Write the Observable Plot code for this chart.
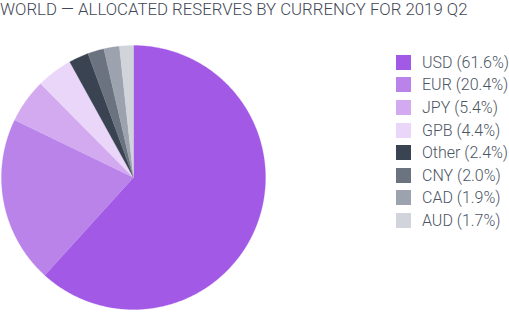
<!DOCTYPE html>
<html>
<head>
<meta charset="utf-8">
<script src="https://cdn.jsdelivr.net/npm/d3@7"></script>
<script src="https://cdn.jsdelivr.net/npm/@observablehq/plot@0.6"></script>
<style>
  html, body { margin: 0; padding: 0; background: #fff; }
  #wrap { position: relative; width: 509px; height: 312px; overflow: hidden; font-family: Roboto, sans-serif; font-weight: 300; }
  #title { position: absolute; left: 0px; top: -1px; font-size: 16.8px; font-weight: 300; color: #3f4856; white-space: nowrap; }
  #chart { position: absolute; left: 0; top: 40px; }
  #legend { position: absolute; left: 396px; top: 51px; }
  .row { display: flex; align-items: center; height: 22.6px; font-size: 16px; color: #4b5563; white-space: nowrap; }
  .sw { width: 15px; height: 15px; margin-right: 11px; flex: none; }
</style>
</head>
<body>
<div id="wrap">
  <div id="title">WORLD — ALLOCATED RESERVES BY CURRENCY FOR 2019 Q2</div>
  <div id="chart"></div>
  <div id="legend"></div>
</div>
<script>
const currencies = ["USD", "EUR", "JPY", "GPB", "Other", "CNY", "CAD", "AUD"];
const shares = [61.6, 20.4, 5.4, 4.4, 2.4, 2.0, 1.9, 1.7];
const colors = ["#a259e6", "#b983ea", "#d3aaf0", "#e9d6f9", "#394352", "#6b7280", "#9ca3af", "#d1d5db"];

const total = d3.sum(shares);
const pts = [];
let acc = 0;
currencies.forEach((c, i) => {
  const a0 = acc / total * 2 * Math.PI;
  acc += shares[i];
  const a1 = acc / total * 2 * Math.PI;
  pts.push({name: c, x: 0, y: 0});
  const n = Math.max(4, Math.ceil((a1 - a0) / 0.01));
  for (let k = 0; k <= n; k++) {
    const a = a0 + (a1 - a0) * k / n;
    pts.push({name: c, x: Math.sin(a), y: Math.cos(a)});
  }
  pts.push({name: c, x: 0, y: 0});
});

const cx = 133, cy = 137, r = 132;
const plot = Plot.plot({
  width: 509,
  height: 272,
  margin: 0,
  x: {domain: [-1, 1], range: [cx - r, cx + r], axis: null},
  y: {domain: [-1, 1], range: [cy + r, cy - r], axis: null},
  color: {type: "ordinal", domain: currencies, range: colors},
  marks: [
    Plot.line(pts, {x: "x", y: "y", z: "name", fill: "name", stroke: "name", strokeWidth: 0.3})
  ]
});
document.getElementById("chart").appendChild(plot);

const legend = d3.select("#legend");
currencies.forEach((c, i) => {
  const row = legend.append("div").attr("class", "row");
  row.append("div").attr("class", "sw").style("background", colors[i]);
  row.append("span").text(`${c} (${shares[i].toFixed(1)}%)`);
});
</script>
</body>
</html>
